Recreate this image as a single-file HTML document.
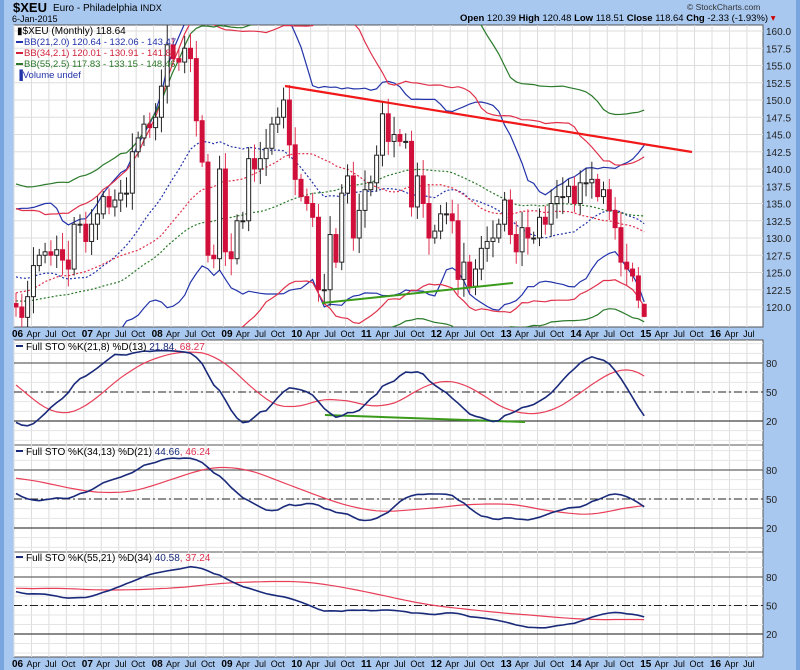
<!DOCTYPE html>
<html><head><meta charset="utf-8">
<style>
html,body{margin:0;padding:0;background:#a9c8f0;}
body{width:800px;height:670px;overflow:hidden;font-family:"Liberation Sans",sans-serif;}
svg{display:block}
</style></head><body>
<svg id="s" width="800" height="670" xmlns="http://www.w3.org/2000/svg" font-family="Liberation Sans, sans-serif">
<rect x="0" y="0" width="800" height="670" fill="#a9c8f0"/>
<rect x="0" y="0" width="4" height="670" fill="#7aa6e0"/>
<rect x="796" y="0" width="4" height="670" fill="#7aa6e0"/>
<text x="13" y="12" font-size="13" font-weight="bold" fill="#000">$XEU</text>
<text x="53" y="11" font-size="10" fill="#000">Euro - Philadelphia <tspan font-size="9">INDX</tspan></text>
<text x="12" y="22" font-size="9" fill="#000">6-Jan-2015</text>
<text x="687" y="10" font-size="8.5" fill="#333">© StockCharts.com</text>
<text x="460" y="21" font-size="9.5" fill="#000"><tspan font-weight="bold">Open</tspan> 120.39 <tspan font-weight="bold">High</tspan> 120.48 <tspan font-weight="bold">Low</tspan> 118.51 <tspan font-weight="bold">Close</tspan> 118.64 <tspan font-weight="bold">Chg</tspan> -2.33 (-1.93%) <tspan fill="#c00">▾</tspan></text>
<g id="g"></g>
</svg>
<script>
var NS="http://www.w3.org/2000/svg",G=document.getElementById('g');
function el(t,a,txt){var e=document.createElementNS(NS,t);for(var k in a)e.setAttribute(k,a[k]);if(txt!=null)e.textContent=txt;G.appendChild(e);return e;}
var L=14,R=763;
var pre=[107,108,109,112,118,114,112,110,117,116,120,126,125,125,123,120,122,122,120,122,124,127,133,136,130,130,130,129,123,121,121,123,120,120,118,120.5];
var C=[120,118.5,121.5,126,127.5,128,127.5,128.3,126.8,125.5,132,132,
129.5,132,133.5,136,134.5,135.5,136.5,136.5,142.5,144.5,146.5,146,
147.5,152,158,156,155.5,157.5,156,147,141,127.5,127,140,
128,127,132.5,132.5,141.5,140,141.5,143,146.5,147.5,150,143.5,
138.5,136,135,133,122.5,122.5,130.5,126.5,136.5,139,130,134,
137,138,142,148,144,145,144,144,134.5,139,135,130,
131,133.5,133.5,132.5,124,126.5,123,125.5,128.5,129.5,130,132,
135.5,130.5,128,131.5,130,130,133,132,135,136,136,137.5,
135,138,138,138.5,136,137,134,131.5,126.5,125.5,124.5,121,118.64];
var all=pre.concat(C),N0=pre.length;
var O=[],H=[],Lo=[];
for(var i=0;i<all.length;i++){var o=i?all[i-1]:all[0];if(i==all.length-1)o=120.39;O.push(o);var r=0.8+((i*37)%17)/8;H.push(Math.max(o,all[i])+r);Lo.push(Math.min(o,all[i])-r*0.9);}
H[all.length-1]=120.48;Lo[all.length-1]=118.51;
var MW=69.8/12;
function X(i){return L+2+(i-N0)*MW;}
var P=[[25,327],[340,445],[445,552],[552,657]];
P.forEach(function(p){el('rect',{x:L,y:p[0],width:R-L,height:p[1]-p[0],fill:'#fff',stroke:'#555','stroke-width':1});});
for(var m=0;m<=11*12;m+=3){var x=L+m*MW;if(x>R)break;P.forEach(function(p){el('line',{x1:x,x2:x,y1:p[0],y2:p[1],stroke:'#ddd','stroke-width':1});});}
function PY(p){return 31+(160-p)*6.9;}
for(var v=120;v<=160;v+=2.5){var y=PY(v);el('line',{x1:L,x2:R,y1:y,y2:y,stroke:'#ddd'});el('text',{x:766,y:y+4,'font-size':10,fill:'#222'},v.toFixed(1));}
var SP=[[363,421],[470,528],[577,634]];
SP.forEach(function(s,k){var p=P[k+1];var u=(s[1]-s[0])/60;for(var v=0;v<=100;v+=10){var y=s[1]+(20-v)*u;if(y>p[0]&&y<p[1])el('line',{x1:L,x2:R,y1:y,y2:y,stroke:'#e4e4e4'});}
el('line',{x1:L,x2:R,y1:s[0],y2:s[0],stroke:'#666','stroke-width':1.3});
el('line',{x1:L,x2:R,y1:s[1],y2:s[1],stroke:'#444','stroke-width':1.3});
var m5=(s[0]+s[1])/2;el('line',{x1:L,x2:R,y1:m5,y2:m5,stroke:'#222','stroke-dasharray':'8,3,2,3'});
[[80,s[0]],[50,m5],[20,s[1]]].forEach(function(a){el('text',{x:766,y:a[1]+4,'font-size':10,fill:'#222'},a[0]);});});
var d=el('clipPath',{id:'c0'});var cr=document.createElementNS(NS,'rect');cr.setAttribute('x',L);cr.setAttribute('y',25);cr.setAttribute('width',R-L);cr.setAttribute('height',302);d.appendChild(cr);
for(var k=1;k<4;k++){var dd=el('clipPath',{id:'c'+k});var rr=document.createElementNS(NS,'rect');rr.setAttribute('x',L);rr.setAttribute('y',P[k][0]);rr.setAttribute('width',R-L);rr.setAttribute('height',P[k][1]-P[k][0]);dd.appendChild(rr);}
function line(vals,fy,col,extra,clip){var s='';for(var i=N0;i<vals.length;i++){if(vals[i]==null)continue;s+=(s?'L':'M')+X(i).toFixed(1)+','+fy(vals[i]).toFixed(1);}var a={d:s,fill:'none',stroke:col,'stroke-width':1.2,'clip-path':'url(#'+clip+')'};for(var k in extra)a[k]=extra[k];el('path',a);}
function sma(a,n){var r=[];for(var i=0;i<a.length;i++){var s=0,c=0;for(var j=Math.max(0,i-n+1);j<=i;j++){if(a[j]!=null){s+=a[j];c++;}}r.push(c?s/c:null);}return r;}
function bb(n,k,col){var mid=[],up=[],dn=[];for(var i=0;i<all.length;i++){var s=0,c=0;for(var j=Math.max(0,i-n+1);j<=i;j++){s+=all[j];c++;}var m=s/c,q=0;for(j=Math.max(0,i-n+1);j<=i;j++)q+=(all[j]-m)*(all[j]-m);var sd=Math.sqrt(q/c);mid.push(m);up.push(m+k*sd);dn.push(m-k*sd);}
line(mid,PY,col,{'stroke-dasharray':'2,2'},'c0');line(up,PY,col,{},'c0');line(dn,PY,col,{},'c0');}
bb(21,2,'#2233aa');bb(34,2.1,'#e0304a');bb(55,2.5,'#2a7a2a');
for(var i=N0;i<all.length;i++){var x=X(i),o=O[i],c=all[i],up=c>=o;
el('line',{x1:x,x2:x,y1:PY(H[i]),y2:PY(Lo[i]),stroke:up?'#222':'#e03050','stroke-width':1,'clip-path':'url(#c0)'});
var t=PY(Math.max(o,c)),b=PY(Math.min(o,c));if(b-t<1)b=t+1;
el('rect',{x:x-2,y:t,width:4,height:b-t,fill:up?'#fff':'#d0103a',stroke:up?'#222':'#d0103a','stroke-width':1,'clip-path':'url(#c0)'});}
el('line',{x1:285,y1:86,x2:692,y2:152,stroke:'#f01818','stroke-width':2.2});
el('line',{x1:322,y1:303,x2:513,y2:283,stroke:'#3a9a1a','stroke-width':2});
el('line',{x1:325,y1:415,x2:525,y2:422,stroke:'#3a9a1a','stroke-width':2});
function sto(n,sm,dp,k){var raw=[];for(var i=0;i<all.length;i++){var hh=-1e9,ll=1e9;for(var j=Math.max(0,i-n+1);j<=i;j++){hh=Math.max(hh,H[j]);ll=Math.min(ll,Lo[j]);}raw.push(100*(all[i]-ll)/(hh-ll));}
var K=sma(raw,sm),D=sma(K,dp);var s=SP[k],u=(s[1]-s[0])/60;var fy=function(v){return s[1]+(20-v)*u;};
line(D,fy,'#e8405a',{},'c'+(k+1));line(K,fy,'#1a2a7a',{'stroke-width':1.6},'c'+(k+1));}
sto(21,8,13,0);sto(34,13,21,1);sto(55,21,34,2);
el('text',{x:17,y:34,'font-size':10,fill:'#000'},'\u25AE$XEU (Monthly) 118.64');
[['BB(21,2.0) 120.64 - 132.06 - 143.47','#2233aa'],['BB(34,2.1) 120.01 - 130.91 - 141.80','#d0203a'],['BB(55,2.5) 117.83 - 133.15 - 148.46','#2a7a2a']].forEach(function(a,i){var y=45+i*11;el('line',{x1:16,x2:23,y1:y-3,y2:y-3,stroke:a[1],'stroke-width':2});el('text',{x:24,y:y,'font-size':9.5,fill:a[1]},a[0]);});
el('text',{x:16,y:78,'font-size':9.5,fill:'#2233aa'},'\u2590Volume undef');
[['Full STO %K(21,8) %D(13) ','21.84',', 68.27',350],['Full STO %K(34,13) %D(21) ','44.66',', 46.24',455],['Full STO %K(55,21) %D(34) ','40.58',', 37.24',561]].forEach(function(a){
el('line',{x1:16,x2:23,y1:a[3]-4,y2:a[3]-4,stroke:'#1a2a7a','stroke-width':2});
var t=el('text',{x:26,y:a[3],'font-size':10,fill:'#000'});t.innerHTML=a[0]+'<tspan fill="#1a2a7a">'+a[1]+'</tspan><tspan fill="#e03050">'+a[2]+'</tspan>';});
function axis(y){var mn=['Apr','Jul','Oct'];for(var yr=0;yr<11;yr++){var x0=L+yr*12*MW;el('text',{x:x0-2,y:y,'font-size':10,'font-weight':'bold',fill:'#000'},String(6+yr).padStart(2,'0'));
for(var q=1;q<4;q++){var x=x0+q*3*MW+2;if(x>R-5)continue;el('text',{x:x,y:y,'font-size':9,fill:'#000','text-anchor':'middle'},mn[q-1]);}}}
axis(337);axis(667);
</script>
</body></html>
